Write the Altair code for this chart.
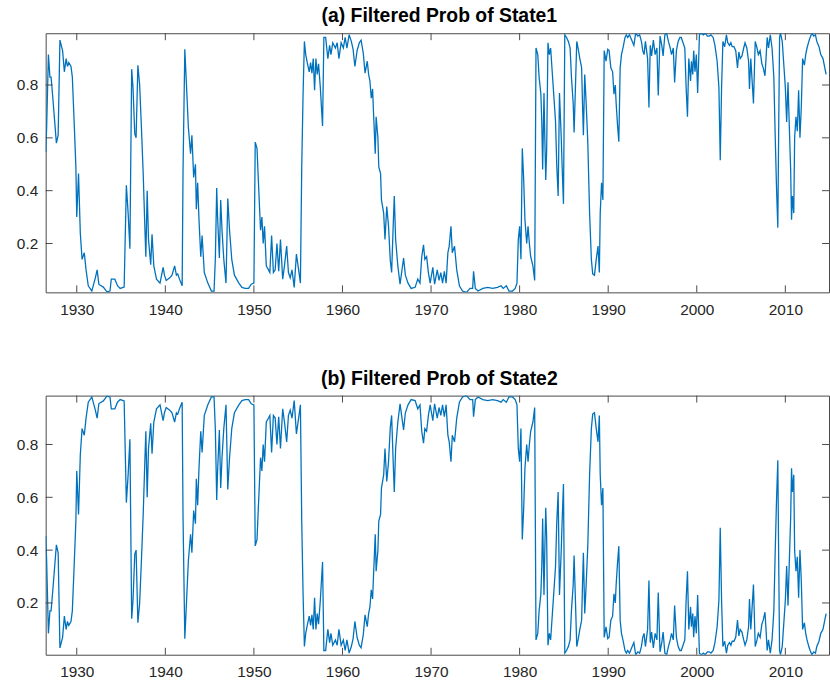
import altair as alt
import pandas as pd

years = [
    1926.5, 1926.6, 1926.8, 1926.97, 1927.1, 1927.3, 1927.5, 1927.7, 1927.9, 1928.1,
    1928.4, 1928.6, 1928.8, 1928.95, 1929.1, 1929.35, 1929.5, 1929.7, 1929.9, 1930.0,
    1930.2, 1930.4, 1930.6, 1930.85, 1931.05, 1931.3, 1931.7, 1932.1, 1932.3, 1932.5,
    1933.0, 1933.4, 1933.75, 1933.9, 1934.3, 1934.6, 1934.9, 1935.35, 1935.6, 1935.8,
    1936.0, 1936.2, 1936.35, 1936.55, 1936.7, 1936.9, 1937.1, 1937.3, 1937.5, 1937.7,
    1937.8, 1937.95, 1938.1, 1938.35, 1938.5, 1938.7, 1939.0, 1939.4, 1939.75, 1939.9,
    1940.1, 1940.5, 1940.75, 1941.05, 1941.25, 1941.4, 1941.6, 1941.9, 1942.0, 1942.2,
    1942.4, 1942.6, 1942.85, 1943.0, 1943.2, 1943.4, 1943.5, 1943.65, 1943.8, 1944.0,
    1944.15, 1944.4, 1944.8, 1945.2, 1945.5, 1945.65, 1945.8, 1945.9, 1946.1, 1946.25,
    1946.4, 1946.6, 1946.85, 1947.05, 1947.25, 1947.5, 1947.8, 1948.3, 1948.65, 1949.0,
    1949.4, 1949.7, 1950.0, 1950.15, 1950.35, 1950.5, 1950.75, 1950.9, 1951.05, 1951.2,
    1951.4, 1951.65, 1951.8, 1952.0, 1952.2, 1952.4, 1952.6, 1952.8, 1953.0, 1953.25,
    1953.45, 1953.7, 1953.9, 1954.1, 1954.3, 1954.55, 1954.8, 1955.05, 1955.25, 1955.4,
    1955.55, 1955.7, 1955.85, 1956.05, 1956.25, 1956.4, 1956.55, 1956.7, 1956.85, 1957.0,
    1957.15, 1957.3, 1957.5, 1957.75, 1957.9, 1958.1, 1958.35, 1958.55, 1958.7, 1958.9,
    1959.2, 1959.4, 1959.6, 1959.85, 1960.1, 1960.3, 1960.5, 1960.75, 1961.0, 1961.2,
    1961.4, 1961.65, 1961.9, 1962.1, 1962.35, 1962.55, 1962.8, 1962.95, 1963.1, 1963.25,
    1963.4, 1963.5, 1963.7, 1963.8, 1964.0, 1964.1, 1964.3, 1964.4, 1964.65, 1964.8,
    1965.0, 1965.2, 1965.4, 1965.55, 1965.75, 1965.85, 1966.0, 1966.25, 1966.5, 1966.9,
    1967.1, 1967.4, 1967.75, 1968.2, 1968.5, 1968.75, 1968.95, 1969.15, 1969.3, 1969.5,
    1969.7, 1969.9, 1970.2, 1970.4, 1970.7, 1970.9, 1971.1, 1971.3, 1971.5, 1971.7,
    1971.9, 1972.05, 1972.25, 1972.4, 1972.65, 1972.9, 1973.2, 1973.55, 1974.0, 1974.4,
    1974.7, 1974.8, 1975.0, 1975.3, 1975.85, 1976.4, 1976.95, 1977.5, 1977.9, 1978.15,
    1978.5, 1978.8, 1979.2, 1979.5, 1979.7, 1979.85, 1980.0, 1980.15, 1980.3, 1980.45,
    1980.6, 1980.8, 1980.95, 1981.1, 1981.25, 1981.5, 1981.7, 1981.85, 1982.05, 1982.2,
    1982.4, 1982.5, 1982.6, 1982.75, 1982.85, 1982.95, 1983.05, 1983.2, 1983.35, 1983.5,
    1983.7, 1983.9, 1984.05, 1984.2, 1984.35, 1984.5, 1984.7, 1984.8, 1984.95, 1985.1,
    1985.3, 1985.5, 1985.7, 1985.85, 1986.05, 1986.15, 1986.3, 1986.45, 1986.6, 1986.8,
    1987.0, 1987.1, 1987.2, 1987.35, 1987.5, 1987.7, 1987.9, 1988.1, 1988.25, 1988.45,
    1988.65, 1988.85, 1989.0, 1989.1, 1989.25, 1989.4, 1989.55, 1989.75, 1989.95, 1990.1,
    1990.3, 1990.5, 1990.65, 1990.8, 1990.9, 1991.05, 1991.2, 1991.35, 1991.5, 1991.7,
    1991.9, 1992.05, 1992.2, 1992.4, 1992.65, 1992.9, 1993.1, 1993.35, 1993.55, 1993.75,
    1993.9, 1994.05, 1994.2, 1994.45, 1994.6, 1994.75, 1994.9, 1995.1, 1995.3, 1995.5,
    1995.65, 1995.85, 1996.05, 1996.2, 1996.4, 1996.6, 1996.8, 1997.0, 1997.15, 1997.35,
    1997.5, 1997.7, 1997.9, 1998.1, 1998.25, 1998.45, 1998.65, 1998.8, 1998.95, 1999.1,
    1999.3, 1999.4, 1999.55, 1999.65, 1999.8, 1999.95, 2000.1, 2000.3, 2000.5, 2000.75,
    2000.95, 2001.2, 2001.4, 2001.6, 2001.85, 2002.05, 2002.3, 2002.5, 2002.65, 2002.8,
    2002.95, 2003.15, 2003.35, 2003.5, 2003.7, 2003.85, 2004.0, 2004.2, 2004.4, 2004.6,
    2004.75, 2004.9, 2005.1, 2005.3, 2005.45, 2005.65, 2005.85, 2005.95, 2006.1, 2006.25,
    2006.4, 2006.6, 2006.8, 2006.95, 2007.15, 2007.35, 2007.5, 2007.7, 2007.8, 2007.95,
    2008.1, 2008.3, 2008.5, 2008.7, 2008.85, 2009.0, 2009.15, 2009.25, 2009.35, 2009.45,
    2009.65, 2009.85, 2010.0, 2010.15, 2010.3, 2010.45, 2010.6, 2010.7, 2010.8, 2010.95,
    2011.05, 2011.2, 2011.35, 2011.5, 2011.65, 2011.8, 2011.95, 2012.15, 2012.3, 2012.45,
    2012.65, 2012.8, 2013.0, 2013.2, 2013.4, 2013.55, 2013.8, 2014.0, 2014.25, 2014.6,
]

prob_state1 = [
    0.546, 0.64, 0.915, 0.83, 0.83, 0.75, 0.665, 0.58, 0.61, 0.97,
    0.93, 0.85, 0.90, 0.87, 0.885, 0.87, 0.83, 0.665, 0.49, 0.30,
    0.465, 0.24, 0.14, 0.165, 0.10, 0.04, 0.02, 0.07, 0.10, 0.045,
    0.035, 0.017, 0.02, 0.065, 0.065, 0.04, 0.03, 0.035, 0.42, 0.315,
    0.18, 0.86, 0.79, 0.615, 0.60, 0.875, 0.80, 0.64, 0.465, 0.25,
    0.15, 0.40, 0.215, 0.12, 0.235, 0.115, 0.065, 0.05, 0.11, 0.08,
    0.06, 0.07, 0.08, 0.115, 0.08, 0.085, 0.065, 0.04, 0.48, 0.935,
    0.79, 0.64, 0.54, 0.61, 0.45, 0.50, 0.33, 0.43, 0.29, 0.15,
    0.23, 0.09, 0.05, 0.02, 0.02, 0.145, 0.41, 0.30, 0.145, 0.365,
    0.25, 0.14, 0.05, 0.37, 0.25, 0.14, 0.08, 0.05, 0.034, 0.03,
    0.03, 0.046, 0.05, 0.584, 0.56, 0.44, 0.25, 0.30, 0.20, 0.265,
    0.115, 0.10, 0.09, 0.23, 0.09, 0.10, 0.20, 0.095, 0.215, 0.065,
    0.115, 0.19, 0.09, 0.07, 0.10, 0.034, 0.16, 0.10, 0.05, 0.49,
    0.765, 0.965, 0.915, 0.88, 0.85, 0.885, 0.845, 0.90, 0.78, 0.90,
    0.84, 0.88, 0.79, 0.645, 0.98, 0.98, 0.90, 0.95, 0.915, 0.96,
    0.94, 0.96, 0.90, 0.96, 0.94, 0.98, 0.94, 0.99, 0.965, 0.935,
    0.87, 0.93, 0.96, 0.97, 0.92, 0.845, 0.89, 0.84, 0.815, 0.75,
    0.785, 0.70, 0.54, 0.68, 0.60, 0.49, 0.465, 0.365, 0.315, 0.215,
    0.34, 0.265, 0.135, 0.09, 0.29, 0.38, 0.215, 0.115, 0.046, 0.145,
    0.08, 0.05, 0.03, 0.034, 0.065, 0.05, 0.15, 0.195, 0.14, 0.15,
    0.09, 0.05, 0.11, 0.046, 0.10, 0.06, 0.09, 0.05, 0.095, 0.05,
    0.165, 0.19, 0.265, 0.165, 0.19, 0.10, 0.04, 0.02, 0.015, 0.03,
    0.03, 0.095, 0.03, 0.02, 0.03, 0.034, 0.03, 0.034, 0.04, 0.03,
    0.04, 0.02, 0.02, 0.03, 0.05, 0.215, 0.265, 0.14, 0.56, 0.45,
    0.29, 0.20, 0.265, 0.20, 0.15, 0.115, 0.06, 0.94, 0.915, 0.83,
    0.765, 0.665, 0.48, 0.77, 0.59, 0.44, 0.55, 0.96, 0.915, 0.94,
    0.84, 0.74, 0.665, 0.49, 0.38, 0.77, 0.60, 0.49, 0.35, 0.99,
    0.98, 0.965, 0.94, 0.83, 0.73, 0.62, 0.79, 0.965, 0.94, 0.90,
    0.865, 0.73, 0.61, 0.84, 0.74, 0.58, 0.315, 0.14, 0.085, 0.08,
    0.14, 0.19, 0.09, 0.315, 0.43, 0.365, 0.93, 0.89, 0.935, 0.93,
    0.865, 0.85, 0.765, 0.80, 0.73, 0.65, 0.585, 0.865, 0.915, 0.945,
    0.98, 0.99, 0.98, 0.99, 0.97, 0.95, 0.996, 0.985, 0.99, 0.965,
    0.93, 0.915, 0.965, 0.90, 0.715, 0.95, 0.91, 0.97, 0.915, 0.94,
    0.76, 0.985, 0.95, 0.91, 0.99, 0.996, 0.965, 0.94, 0.915, 0.94,
    0.81, 0.93, 0.965, 0.98, 0.98, 0.96, 0.94, 0.79, 0.68, 0.90,
    0.815, 0.89, 0.84, 0.93, 0.85, 0.915, 0.77, 0.99, 0.996, 0.99,
    0.996, 0.985, 0.985, 0.99, 0.98, 0.95, 0.89, 0.79, 0.515, 0.79,
    0.965, 0.945, 0.99, 0.96, 0.95, 0.96, 0.945, 0.945, 0.93, 0.865,
    0.925, 0.90, 0.91, 0.94, 0.96, 0.94, 0.89, 0.785, 0.90, 0.815,
    0.73, 0.965, 0.94, 0.915, 0.93, 0.88, 0.865, 0.835, 0.89, 0.98,
    0.94, 0.99, 0.94, 0.83, 0.615, 0.415, 0.26, 0.64, 0.98, 0.996,
    0.965, 0.865, 0.79, 0.66, 0.81, 0.64, 0.48, 0.29, 0.38, 0.315,
    0.60, 0.68, 0.625, 0.78, 0.60, 0.715, 0.90, 0.875, 0.915, 0.94,
    0.965, 0.98, 0.996, 0.985, 0.99, 0.965, 0.945, 0.915, 0.90, 0.84,
]

prob_state2 = [
    0.454, 0.36, 0.085, 0.17, 0.17, 0.25, 0.335, 0.42, 0.39, 0.03,
    0.07, 0.15, 0.10, 0.13, 0.115, 0.13, 0.17, 0.335, 0.51, 0.70,
    0.535, 0.76, 0.86, 0.835, 0.90, 0.96, 0.98, 0.93, 0.90, 0.955,
    0.965, 0.983, 0.98, 0.935, 0.935, 0.96, 0.97, 0.965, 0.58, 0.685,
    0.82, 0.14, 0.21, 0.385, 0.40, 0.125, 0.20, 0.36, 0.535, 0.75,
    0.85, 0.60, 0.785, 0.88, 0.765, 0.885, 0.935, 0.95, 0.89, 0.92,
    0.94, 0.93, 0.92, 0.885, 0.92, 0.915, 0.935, 0.96, 0.52, 0.065,
    0.21, 0.36, 0.46, 0.39, 0.55, 0.50, 0.67, 0.57, 0.71, 0.85,
    0.77, 0.91, 0.95, 0.98, 0.98, 0.855, 0.59, 0.70, 0.855, 0.635,
    0.75, 0.86, 0.95, 0.63, 0.75, 0.86, 0.92, 0.95, 0.966, 0.97,
    0.97, 0.954, 0.95, 0.416, 0.44, 0.56, 0.75, 0.70, 0.80, 0.735,
    0.885, 0.90, 0.91, 0.77, 0.91, 0.90, 0.80, 0.905, 0.785, 0.935,
    0.885, 0.81, 0.91, 0.93, 0.90, 0.966, 0.84, 0.90, 0.95, 0.51,
    0.235, 0.035, 0.085, 0.12, 0.15, 0.115, 0.155, 0.10, 0.22, 0.10,
    0.16, 0.12, 0.21, 0.355, 0.02, 0.02, 0.10, 0.05, 0.085, 0.04,
    0.06, 0.04, 0.10, 0.04, 0.06, 0.02, 0.06, 0.01, 0.035, 0.065,
    0.13, 0.07, 0.04, 0.03, 0.08, 0.155, 0.11, 0.16, 0.185, 0.25,
    0.215, 0.30, 0.46, 0.32, 0.40, 0.51, 0.535, 0.635, 0.685, 0.785,
    0.66, 0.735, 0.865, 0.91, 0.71, 0.62, 0.785, 0.885, 0.954, 0.855,
    0.92, 0.95, 0.97, 0.966, 0.935, 0.95, 0.85, 0.805, 0.86, 0.85,
    0.91, 0.95, 0.89, 0.954, 0.90, 0.94, 0.91, 0.95, 0.905, 0.95,
    0.835, 0.81, 0.735, 0.835, 0.81, 0.90, 0.96, 0.98, 0.985, 0.97,
    0.97, 0.905, 0.97, 0.98, 0.97, 0.966, 0.97, 0.966, 0.96, 0.97,
    0.96, 0.98, 0.98, 0.97, 0.95, 0.785, 0.735, 0.86, 0.44, 0.55,
    0.71, 0.80, 0.735, 0.80, 0.85, 0.885, 0.94, 0.06, 0.085, 0.17,
    0.235, 0.335, 0.52, 0.23, 0.41, 0.56, 0.45, 0.04, 0.085, 0.06,
    0.16, 0.26, 0.335, 0.51, 0.62, 0.23, 0.40, 0.51, 0.65, 0.01,
    0.02, 0.035, 0.06, 0.17, 0.27, 0.38, 0.21, 0.035, 0.06, 0.10,
    0.135, 0.27, 0.39, 0.16, 0.26, 0.42, 0.685, 0.86, 0.915, 0.92,
    0.86, 0.81, 0.91, 0.685, 0.57, 0.635, 0.07, 0.11, 0.065, 0.07,
    0.135, 0.15, 0.235, 0.20, 0.27, 0.35, 0.415, 0.135, 0.085, 0.055,
    0.02, 0.01, 0.02, 0.01, 0.03, 0.05, 0.004, 0.015, 0.01, 0.035,
    0.07, 0.085, 0.035, 0.10, 0.285, 0.05, 0.09, 0.03, 0.085, 0.06,
    0.24, 0.015, 0.05, 0.09, 0.01, 0.004, 0.035, 0.06, 0.085, 0.06,
    0.19, 0.07, 0.035, 0.02, 0.02, 0.04, 0.06, 0.21, 0.32, 0.10,
    0.185, 0.11, 0.16, 0.07, 0.15, 0.085, 0.23, 0.01, 0.004, 0.01,
    0.004, 0.015, 0.015, 0.01, 0.02, 0.05, 0.11, 0.21, 0.485, 0.21,
    0.035, 0.055, 0.01, 0.04, 0.05, 0.04, 0.055, 0.055, 0.07, 0.135,
    0.075, 0.10, 0.09, 0.06, 0.04, 0.06, 0.11, 0.215, 0.10, 0.185,
    0.27, 0.035, 0.06, 0.085, 0.07, 0.12, 0.135, 0.165, 0.11, 0.02,
    0.06, 0.01, 0.06, 0.17, 0.385, 0.585, 0.74, 0.36, 0.02, 0.004,
    0.035, 0.135, 0.21, 0.34, 0.19, 0.36, 0.52, 0.71, 0.62, 0.685,
    0.40, 0.32, 0.375, 0.22, 0.40, 0.285, 0.10, 0.125, 0.085, 0.06,
    0.035, 0.02, 0.004, 0.015, 0.01, 0.035, 0.055, 0.085, 0.10, 0.16,
]

x_tick_years = [1930, 1940, 1950, 1960, 1970, 1980, 1990, 2000, 2010]
y_tick_values = [0.2, 0.4, 0.6, 0.8]
titles = ["(a) Filtered Prob of State1", "(b) Filtered Prob of State2"]

W, H = 789, 261
X_DOMAIN = [1926.49, 2014.93]
FONT = "Liberation Sans"
AX_COLOR = "#4a4a4a"
TICK_LEN = 7

X_AXIS = alt.Axis(values=x_tick_years, format="d", title=None, ticks=False, tickSize=0,
                  domain=False, grid=False, labelFont=FONT, labelFontSize=15.5,
                  labelColor="#262626", labelPadding=10, labelFlush=False)
Y_AXIS = alt.Axis(values=y_tick_values, format=".1f", title=None, ticks=False, tickSize=0,
                  domain=False, grid=False, labelFont=FONT, labelFontSize=15.5,
                  labelColor="#262626", labelPadding=8)


def panel(values, title, ydom):
    df = pd.DataFrame({"year": years, "prob": values})
    xs = alt.Scale(domain=X_DOMAIN, nice=False, zero=False)
    ys = alt.Scale(domain=ydom, nice=False, zero=False)
    line = alt.Chart(df).mark_line(color="#0072BD", strokeWidth=1.3, clip=True).encode(
        x=alt.X("year:Q", scale=xs, axis=X_AXIS),
        y=alt.Y("prob:Q", scale=ys, axis=Y_AXIS),
    )
    xt = pd.DataFrame({"t": x_tick_years})
    yt = pd.DataFrame({"t": y_tick_values})
    bottom_ticks = alt.Chart(xt).mark_rule(color=AX_COLOR, strokeWidth=1).encode(
        x=alt.X("t:Q", scale=xs, axis=X_AXIS), y=alt.value(H), y2=alt.value(H - TICK_LEN))
    top_ticks = alt.Chart(xt).mark_rule(color=AX_COLOR, strokeWidth=1).encode(
        x=alt.X("t:Q", scale=xs, axis=X_AXIS), y=alt.value(0), y2=alt.value(TICK_LEN))
    left_ticks = alt.Chart(yt).mark_rule(color=AX_COLOR, strokeWidth=1).encode(
        y=alt.Y("t:Q", scale=ys, axis=Y_AXIS), x=alt.value(0), x2=alt.value(TICK_LEN))
    right_ticks = alt.Chart(yt).mark_rule(color=AX_COLOR, strokeWidth=1).encode(
        y=alt.Y("t:Q", scale=ys, axis=Y_AXIS), x=alt.value(W), x2=alt.value(W - TICK_LEN))
    return alt.layer(line, bottom_ticks, top_ticks, left_ticks, right_ticks).properties(
        width=W, height=H,
        title=alt.TitleParams(text=title, fontSize=19.5, fontWeight="bold", font=FONT,
                              color="#000000", anchor="middle", offset=6, dx=2),
    )


top = panel(prob_state1, titles[0], [0.015, 0.996])
bottom = panel(prob_state2, titles[1], [0.004, 0.985])

chart = alt.VConcatChart(vconcat=[top, bottom], spacing=104, bounds="flush").properties(
    padding={"left": 15, "top": 3, "right": 0, "bottom": 0},
    background="white",
).configure_view(stroke=AX_COLOR, strokeWidth=1)

chart.save("out.html", embed_options={"renderer": "svg", "actions": False})
